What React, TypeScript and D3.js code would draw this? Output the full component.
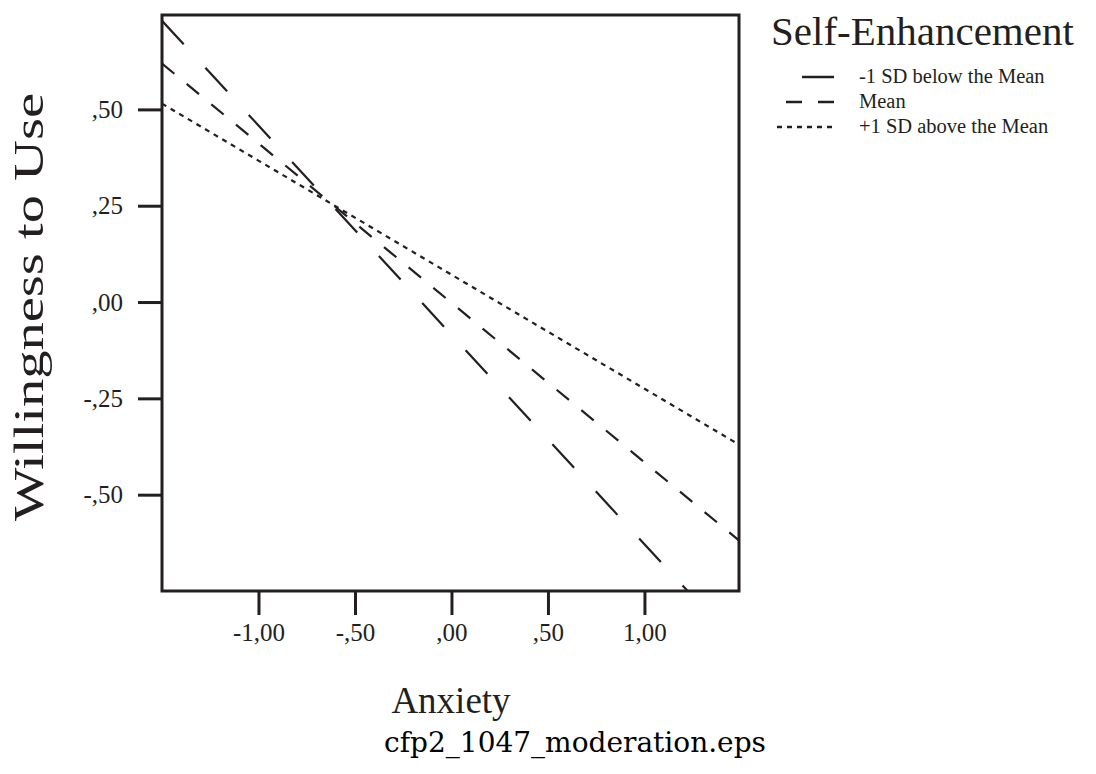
import React, { useEffect, useRef } from "react";
import * as d3 from "d3";

// Simple slopes from the moderation analysis (values at the ends of the Anxiety range)
const anxiety = [-1.5, 1.5];
const lowSE = [0.73, -0.9];
const meanSE = [0.619, -0.623];
const highSE = [0.515, -0.373];

const xTicks = [-1, -0.5, 0, 0.5, 1];
const xTickLabels = ["-1,00", "-,50", ",00", ",50", "1,00"];
const yTicks = [0.5, 0.25, 0, -0.25, -0.5];
const yTickLabels = [",50", ",25", ",00", "-,25", "-,50"];

const seriesNames = ["-1 SD below the Mean", "Mean", "+1 SD above the Mean"];
const seriesValues = [lowSE, meanSE, highSE];
const dashes = ["32,32", "16,16", "5,5"];

const serif = "'Liberation Serif', 'Times New Roman', serif";
const ink = "#231f20";

const App = () => {
  const ref = useRef<SVGSVGElement | null>(null);

  useEffect(() => {
    drawChart();
  }, []);

  const drawChart = () => {
    const svg = d3.select(ref.current);
    svg.selectAll("*").remove();

    const left = 162;
    const right = 739;
    const top = 15;
    const bottom = 591;

    const x = d3.scaleLinear().domain([-1.5, 1.49]).range([left, right]);
    const y = d3.scaleLinear().domain([-0.75, 0.745]).range([bottom, top]);

    // clip so the lines stop at the frame
    svg
      .append("clipPath")
      .attr("id", "plot-clip")
      .append("rect")
      .attr("x", left)
      .attr("y", top)
      .attr("width", right - left)
      .attr("height", bottom - top);

    const line = d3
      .line<number>()
      .x((_, i) => x(anxiety[i]))
      .y((d) => y(d));

    const lines = svg.append("g").attr("clip-path", "url(#plot-clip)");
    seriesValues.forEach((vals, i) => {
      lines
        .append("path")
        .datum(vals)
        .attr("d", line)
        .attr("fill", "none")
        .attr("stroke", ink)
        .attr("stroke-width", 2.2)
        .attr("stroke-dasharray", dashes[i]);
    });

    // frame
    svg
      .append("rect")
      .attr("x", left)
      .attr("y", top)
      .attr("width", right - left)
      .attr("height", bottom - top)
      .attr("fill", "none")
      .attr("stroke", ink)
      .attr("stroke-width", 3);

    // x axis
    const xAxis = svg
      .append("g")
      .attr("transform", `translate(0,${bottom})`)
      .call(
        d3
          .axisBottom(x)
          .tickValues(xTicks)
          .tickFormat((_, i) => xTickLabels[i])
          .tickSize(24)
          .tickPadding(8)
      );
    xAxis.select(".domain").remove();
    xAxis.selectAll(".tick line").attr("stroke", ink).attr("stroke-width", 3);
    xAxis
      .selectAll(".tick text")
      .attr("fill", ink)
      .style("font-family", serif)
      .style("font-size", "25px");

    // y axis
    const yAxis = svg
      .append("g")
      .attr("transform", `translate(${left},0)`)
      .call(
        d3
          .axisLeft(y)
          .tickValues(yTicks)
          .tickFormat((_, i) => yTickLabels[i])
          .tickSize(24)
          .tickPadding(15)
      );
    yAxis.select(".domain").remove();
    yAxis.selectAll(".tick line").attr("stroke", ink).attr("stroke-width", 3);
    yAxis
      .selectAll(".tick text")
      .attr("fill", ink)
      .style("font-family", serif)
      .style("font-size", "25px");

    // axis titles
    svg
      .append("text")
      .attr("x", 451)
      .attr("y", 713)
      .attr("text-anchor", "middle")
      .attr("fill", ink)
      .style("font-family", serif)
      .style("font-size", "37px")
      .text("Anxiety");

    // the original title is stretched along its length
    svg
      .append("text")
      .attr("transform", "translate(43,307) rotate(-90)")
      .attr("text-anchor", "middle")
      .attr("fill", ink)
      .attr("textLength", 428)
      .attr("lengthAdjust", "spacingAndGlyphs")
      .style("font-family", serif)
      .style("font-size", "42px")
      .text("Willingness to Use");

    // legend
    const legend = svg.append("g");
    legend
      .append("text")
      .attr("x", 771)
      .attr("y", 45)
      .attr("fill", ink)
      .style("font-family", serif)
      .style("font-size", "41px")
      .text("Self-Enhancement");

    const symbolStart = [802, 786, 777];
    seriesNames.forEach((name, i) => {
      const ly = 77 + i * 25;
      legend
        .append("line")
        .attr("x1", symbolStart[i])
        .attr("x2", 834)
        .attr("y1", ly)
        .attr("y2", ly)
        .attr("stroke", ink)
        .attr("stroke-width", 2.5)
        .attr("stroke-dasharray", i === 0 ? null : dashes[i]);
      legend
        .append("text")
        .attr("x", 859)
        .attr("y", ly + 6)
        .attr("fill", ink)
        .style("font-family", serif)
        .style("font-size", "20.5px")
        .text(name);
    });

    // caption
    svg
      .append("text")
      .attr("x", 575)
      .attr("y", 752)
      .attr("text-anchor", "middle")
      .attr("fill", "#000")
      .style("font-family", "'DejaVu Serif', serif")
      .style("font-size", "28px")
      .text("cfp2_1047_moderation.eps");
  };

  return (
    <svg
      ref={ref}
      width={1096}
      height={774}
      style={{ position: "absolute", left: 0, top: 0, background: "#fff" }}
    />
  );
};

export default App;
